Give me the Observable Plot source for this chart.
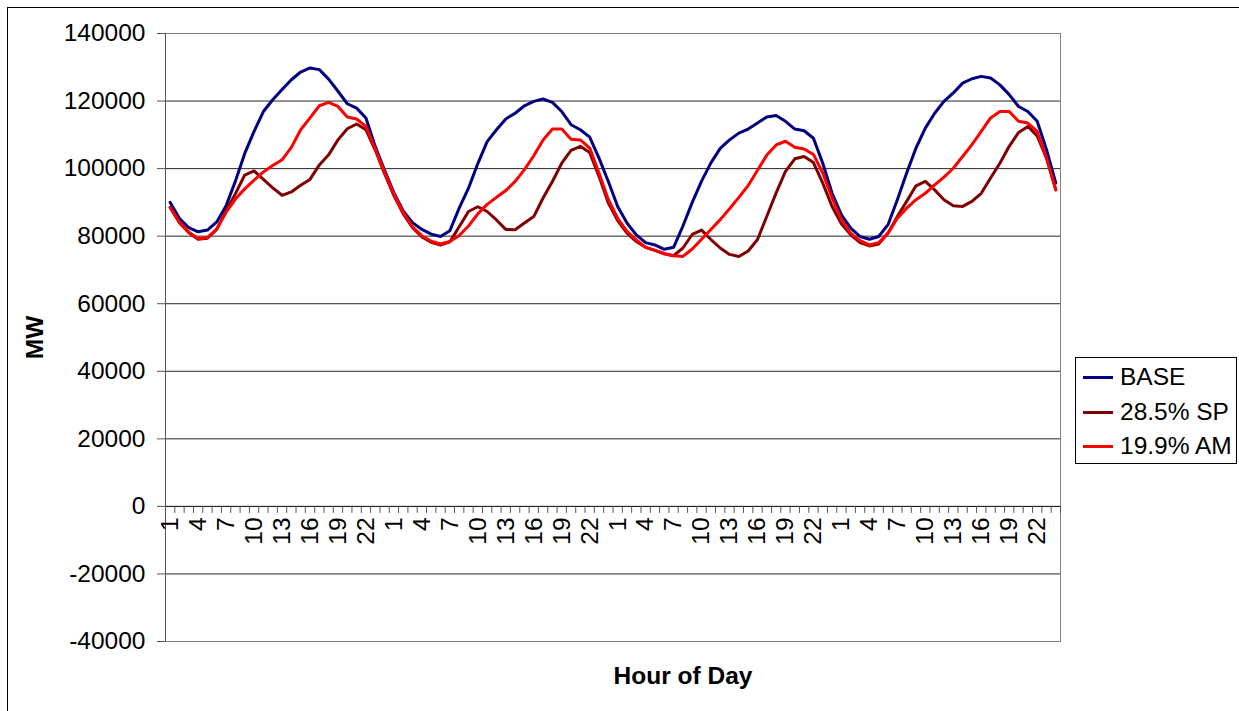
<!DOCTYPE html>
<html>
<head>
<meta charset="utf-8">
<script src="https://cdn.jsdelivr.net/npm/d3@7"></script>
<script src="https://cdn.jsdelivr.net/npm/@observablehq/plot@0.6"></script>
<style>
html, body { margin: 0; padding: 0; background: #fff; overflow: hidden; }
#wrap { position: relative; width: 1239px; height: 711px; overflow: hidden; font-family: "Liberation Sans", Arial, sans-serif; }
#chart { position: absolute; left: 0; top: 0; }
#border { position: absolute; left: 7px; top: 7px; width: 1400px; height: 900px; border: 1px solid #000; pointer-events: none; }
#legend { position: absolute; left: 1075px; top: 357px; width: 162px; height: 107px; border: 1px solid #000; background: #fff; box-sizing: border-box; }
.row { position: absolute; left: 7px; height: 30px; display: flex; align-items: center; font-size: 24.5px; white-space: nowrap; color: #000; }
.sw { width: 30px; height: 3px; margin-right: 7px; }
</style>
</head>
<body>
<div id="wrap">
  <div id="chart"></div>
  <div id="border"></div>
  <div id="legend"></div>
</div>
<script>
// ---- data ----
const hourOfDay = [1,2,3,4,5,6,7,8,9,10,11,12,13,14,15,16,17,18,19,20,21,22,23,24];
const dayCount = 4;
const labelHours = [1,4,7,10,13,16,19,22];
const yTicks = [-40000,-20000,0,20000,40000,60000,80000,100000,120000,140000];
const seriesNames = ["BASE","28.5% SP","19.9% AM"];
const seriesColors = ["#000080","#800000","#ff0000"];

const base = [
  90000,85200,82500,81300,81800,84200,89000,96300,104500,111000,116900,120400,123400,126300,128600,129800,129300,126500,122900,119200,117900,115000,106500,99500,
  92800,87500,84000,82000,80600,79900,81600,88300,94200,101500,108000,111500,114700,116400,118600,119900,120600,119600,116900,113000,111500,109300,103100,96200,
  88800,83900,80400,78100,77400,76100,76700,83000,90000,96300,101700,106000,108500,110500,111700,113500,115300,115700,114000,111700,111200,109000,101600,92700,
  86300,82400,79900,79100,79900,83400,90800,98700,106100,112000,116400,119900,122400,125300,126600,127300,126800,124800,121900,118400,116900,114000,105600,95700
];
const sp285 = [
  88500,84000,81000,79100,79400,82000,87500,92600,98100,99300,96800,94300,92100,93100,95100,96800,101100,104100,108500,111800,113200,111500,105500,98500,
  92000,86600,82500,79800,78200,77400,78300,82800,87300,88700,87300,84800,82000,81900,83900,85800,91300,96200,101600,105400,106600,104800,97700,89800,
  84600,80900,78400,76700,75800,74800,74200,76500,80500,81800,79000,76500,74600,74000,75600,79000,85900,92800,99200,102900,103600,101800,95700,88800,
  83700,80400,78100,77100,77700,80900,85800,90300,94900,96200,93700,90800,89000,88800,90300,92700,97200,101600,106600,110700,112500,109700,103100,93700
];
const am199 = [
  88500,84200,81200,79300,79600,82200,87100,91000,94000,96600,99000,100900,102600,106300,111500,115000,118600,119600,118400,115300,114700,112500,105800,99000,
  92400,87000,82800,80100,78500,77700,78400,80200,83000,86600,89400,91500,93500,96200,99700,103800,108500,111700,111700,108700,108500,106100,98700,90800,
  85300,81400,78900,76700,75800,74800,74200,74000,76200,79100,82000,84900,88100,91500,95000,99500,104000,107000,108100,106300,105800,104200,98700,91300,
  84800,80900,78700,77400,78100,80900,85300,88300,90800,92700,95200,97500,100100,103600,107100,111000,115000,116900,116900,114000,113500,111000,103100,93700
];

// ---- build ----
const categories = d3.range(dayCount).flatMap(() => hourOfDay);
const n = categories.length;
const seriesValues = [base, sp285, am199];
const rows = seriesNames.flatMap((name, s) => seriesValues[s].map((v, i) => ({i, v, name})));
const labelIdx = d3.range(n).filter(i => labelHours.includes(categories[i]));
const font = '"Liberation Sans", Arial, sans-serif';

const chart = Plot.plot({
  width: 1239,
  height: 711,
  marginLeft: 165,
  marginRight: 179,
  marginTop: 33,
  marginBottom: 70,
  style: {fontFamily: font, fontSize: "24.5px", color: "#000", background: "transparent"},
  x: {type: "linear", domain: [0, n], axis: null, label: null},
  y: {domain: [-40000, 140000], axis: null, label: null},
  color: {domain: seriesNames, range: seriesColors},
  marks: [
    Plot.ruleY(yTicks.filter(t => t > -40000 && t < 140000 && t !== 0), {stroke: "#000", strokeOpacity: 0.85}),
    Plot.frame({stroke: "#808080"}),
    Plot.ruleX([0], {stroke: "#555"}),
    Plot.axisY({ticks: yTicks, anchor: "left", label: null, tickSize: 8, tickPadding: 12, tickFormat: d => String(d), fontSize: 24.5, stroke: "#555"}),
    Plot.ruleY([0], {stroke: "#000"}),
    Plot.ruleX(d3.range(n + 1), {x: d => d, y1: 0, y2: 0, insetBottom: -7, stroke: "#555"}),
    Plot.text(labelIdx, {x: i => i + 0.5, y: 0, text: i => String(categories[i]), rotate: -90, textAnchor: "end", lineAnchor: "middle", dy: 11, fontSize: 24.5, fill: "#000"}),
    Plot.line(rows, {x: d => d.i + 0.5, y: "v", z: "name", stroke: "name", strokeWidth: 3, strokeLinejoin: "round", strokeLinecap: "round"}),
    Plot.text(["MW"], {text: d => d, frameAnchor: "left", dx: -130, rotate: -90, textAnchor: "middle", lineAnchor: "middle", fontWeight: "bold", fontSize: 24.5, fill: "#000"}),
    Plot.text(["Hour of Day"], {text: d => d, frameAnchor: "bottom", dx: 70, dy: 35, textAnchor: "middle", lineAnchor: "middle", fontWeight: "bold", fontSize: 24.5, fill: "#000"})
  ]
});
document.getElementById("chart").appendChild(chart);

// ---- legend ----
const legend = document.getElementById("legend");
const rowTops = [4, 39, 73];
seriesNames.forEach((name, s) => {
  const r = document.createElement("div");
  r.className = "row";
  r.style.top = rowTops[s] + "px";
  const sw = document.createElement("div");
  sw.className = "sw";
  sw.style.background = seriesColors[s];
  const t = document.createElement("span");
  t.textContent = name;
  r.appendChild(sw);
  r.appendChild(t);
  legend.appendChild(r);
});
</script>
</body>
</html>
